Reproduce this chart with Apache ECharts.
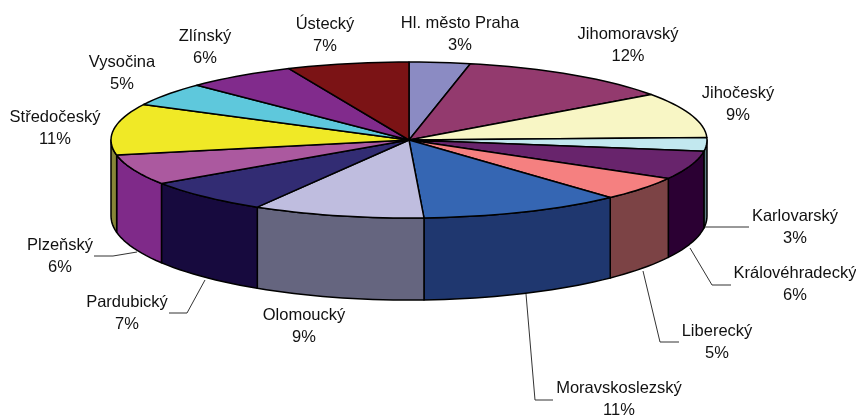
<!DOCTYPE html>
<html>
<head>
<meta charset="utf-8">
<script src="https://cdn.jsdelivr.net/npm/echarts@6/dist/echarts.min.js"></script>
<style>
  html, body { margin: 0; padding: 0; background: #fff; }
  #chart { width: 856px; height: 418px; }
</style>
</head>
<body>
<div id="chart"></div>
<script>
const regions = ["Hl. město Praha", "Jihomoravský", "Jihočeský", "Karlovarský", "Královéhradecký", "Liberecký", "Moravskoslezský", "Olomoucký", "Pardubický", "Plzeňský", "Středočeský", "Vysočina", "Zlínský", "Ústecký"];
const shares = [3.3, 11.8, 9.4, 2.8, 5.9, 5.0, 11.0, 9.3, 7.1, 6.3, 10.6, 4.9, 6.0, 6.6];

const topColors = ["#8B8BC3", "#933A6E", "#F8F6C5", "#C2E8EF", "#68246C", "#F58080", "#3566B3", "#BFBDDF", "#322C73", "#AB599F", "#F0E926", "#5EC8DC", "#812B8C", "#7B1315"];
const sideColors = ["#45456A", "#4A1D37", "#7C7B62", "#5F7F85", "#2B0033", "#7C4345", "#1F376F", "#65657F", "#170A3E", "#7F2A89", "#878538", "#2F646E", "#411646", "#3D0A0B"];

// label centres (x, y of first line) and leader lines, by hand from the reference
const labelPos = [[460, 23], [628, 34], [738, 93], [795, 216], [795, 273], [717, 331], [619, 388], [304, 315], [127, 302], [60, 245], [55, 117], [122, 62], [205, 36], [325, 24]];
const leaders = {
  3: [[705, 227], [749, 227]],
  4: [[690, 248], [712, 285], [731, 285]],
  5: [[643, 271], [660, 342], [679, 342]],
  6: [[526, 294], [535, 400], [553, 400]],
  8: [[205, 280], [187, 313], [169, 313]],
  9: [[137, 252], [113, 256], [94, 256]]
};

// pie geometry, the lower rim is drawn a bit rounder than the top like the perspective in the original
const cx = 409, cy = 140, rx = 298, ry = 78;
const lowerCy = 216, lowerRy = 84;

const total = shares.reduce((a, b) => a + b, 0);
const starts = [];
shares.reduce((acc, v, i) => { starts[i] = acc; return acc + v; }, 0);

const rimPoint = (deg, y0, yr) => {
  const r = deg * Math.PI / 180;
  return [cx + rx * Math.sin(r), y0 - yr * Math.cos(r)];
};
const arc = (from, to, y0, yr) => {
  const pts = [];
  const n = Math.max(2, Math.ceil(Math.abs(to - from) / 2));
  for (let i = 0; i <= n; i++) pts.push(rimPoint(from + (to - from) * i / n, y0, yr));
  return pts;
};

function renderSlice(params, api) {
  const i = params.dataIndex;
  const value = api.value(0);
  const a0 = starts[i] / total * 360;
  const a1 = a0 + value / total * 360;
  const children = [];
  const line = { stroke: "#000", lineWidth: 1.5, lineJoin: "round" };

  // outer wall only on the front half
  const w0 = Math.max(a0, 90), w1 = Math.min(a1, 270);
  if (w1 > w0) {
    children.push({
      type: "polygon",
      shape: { points: arc(w0, w1, cy, ry).concat(arc(w1, w0, lowerCy, lowerRy)) },
      style: Object.assign({ fill: sideColors[i] }, line)
    });
  }
  children.push({
    type: "polygon",
    shape: { points: [[cx, cy]].concat(arc(a0, a1, cy, ry)) },
    style: Object.assign({ fill: topColors[i] }, line)
  });

  if (leaders[i]) {
    children.push({
      type: "polyline",
      shape: { points: leaders[i] },
      style: { stroke: "#333", lineWidth: 1, fill: null }
    });
  }
  const [lx, ly] = labelPos[i];
  [regions[i], Math.round(value / total * 100) + "%"].forEach((s, k) => {
    children.push({
      type: "text",
      style: {
        x: lx, y: ly + k * 22.5, text: s,
        fill: "#111", align: "center", verticalAlign: "middle",
        font: "16.5px 'Liberation Sans', Arial, sans-serif"
      }
    });
  });
  return { type: "group", children };
}

const myChart = echarts.init(document.getElementById("chart"), null, { renderer: "canvas" });
myChart.setOption({
  animation: false,
  backgroundColor: "#fff",
  series: [{
    type: "custom",
    coordinateSystem: "none",
    renderItem: renderSlice,
    clip: false,
    data: shares.map((v, i) => ({ name: regions[i], value: [v] }))
  }]
});
</script>
</body>
</html>
